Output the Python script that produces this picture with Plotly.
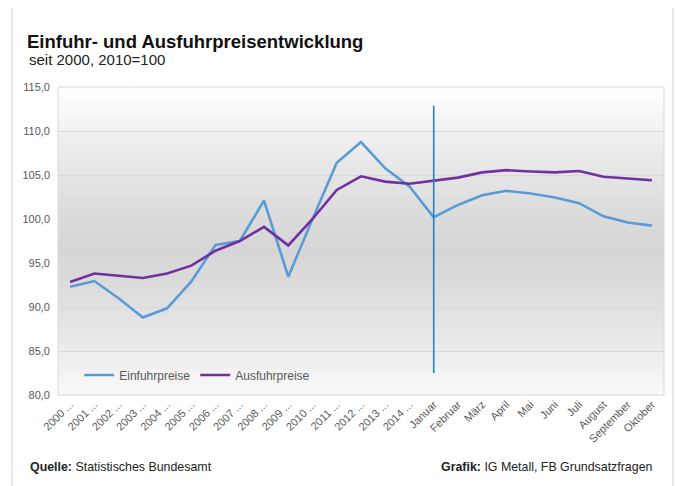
import plotly.graph_objects as go

# Kategorien: Jahre 2000-2014 (abgeschnitten wie im Original) + Monate
jahre = [str(j) + " ..." for j in range(2000, 2015)]
monate = ["Januar", "Februar", "März", "April", "Mai", "Juni", "Juli",
          "August", "September", "Oktober"]
kategorien = jahre + monate

einfuhr = [92.3, 92.95, 91.0, 88.8, 89.85, 92.9, 97.05, 97.5, 102.1, 93.45,
           100.0, 106.4, 108.75, 105.75, 103.7,
           100.2, 101.6, 102.7, 103.2, 102.9, 102.45, 101.8, 100.3, 99.6, 99.25]
ausfuhr = [92.85, 93.8, 93.55, 93.3, 93.8, 94.7, 96.4, 97.5, 99.1, 97.0,
           100.0, 103.3, 104.85, 104.25, 104.0,
           104.35, 104.7, 105.3, 105.55, 105.4, 105.3, 105.45, 104.8, 104.6, 104.4]

# senkrechte Markierung beim Januar
marke_x = ["Januar", "Januar"]
marke_y = [82.5, 112.9]

y_ticks = [80, 85, 90, 95, 100, 105, 110, 115]

FONT = "Liberation Sans, Arial, sans-serif"

# Seite hat 8px Rand -> Figur etwas kleiner, Plotbereich in Seitenkoordinaten 58..664 / 87..395
W, H = 676, 478
PL, PT, PW, PH = 58, 87, 606, 308


def px(xp):
    return (xp - PL) / PW


def py(yp):
    return (PT + PH - yp) / PH


fig = go.Figure()
fig.add_trace(go.Scatter(x=kategorien, y=einfuhr, mode="lines", name="Einfuhrpreise",
                         line=dict(color="#5b9bd5", width=2.6)))
fig.add_trace(go.Scatter(x=kategorien, y=ausfuhr, mode="lines", name="Ausfuhrpreise",
                         line=dict(color="#7030a0", width=2.6)))
fig.add_trace(go.Scatter(x=marke_x, y=marke_y, mode="lines", showlegend=False,
                         hoverinfo="skip", line=dict(color="#2e7fc0", width=1.6)))

# Hintergrundverlauf: weiß oben/unten, grau in der Mitte
shapes = []
n = 60
for i in range(n):
    t = (i + 0.5) / n
    d = abs(t - 0.47) / 0.53
    g = int(round(214 + 41 * min(d, 1) ** 1.3))
    shapes.append(dict(type="rect", xref="paper", yref="paper", x0=0, x1=1,
                       y0=i / n, y1=(i + 1) / n + 0.002, layer="below",
                       line=dict(width=0), fillcolor=f"rgb({g},{g},{g})"))
# Rahmen des Plotbereichs
shapes.append(dict(type="rect", xref="paper", yref="paper", x0=0, x1=1, y0=0, y1=1,
                   line=dict(color="#d9d9d9", width=1), layer="above"))
# äußere Rahmenlinien links/rechts
for xp in [12, 673]:
    shapes.append(dict(type="line", xref="paper", yref="paper", x0=px(xp), x1=px(xp),
                       y0=py(486), y1=py(0), line=dict(color="#d0d0d0", width=1)))

fig.update_layout(
    width=W, height=H,
    margin=dict(l=PL - 8, r=W - (PL - 8) - PW, t=PT - 8, b=H - (PT - 8) - PH),
    paper_bgcolor="white",
    plot_bgcolor="rgba(0,0,0,0)",
    separators=", ",
    font=dict(family=FONT, size=11, color="#595959"),
    title=dict(text="<b>Einfuhr- und Ausfuhrpreisentwicklung</b>",
               x=19 / W, xanchor="left", y=1 - 34 / H, yanchor="middle",
               font=dict(family=FONT, size=18.5, color="#111111")),
    xaxis=dict(type="category", range=[-0.5, len(kategorien) - 0.5], tickangle=-45,
               showgrid=False, showline=False, ticks="",
               tickfont=dict(size=11, color="#595959")),
    yaxis=dict(range=[80, 115], tickvals=y_ticks, tickformat=".1f",
               showgrid=True, gridcolor="#d9d9d9", gridwidth=1, zeroline=False,
               showline=False, ticks="", ticklabelstandoff=7,
               tickfont=dict(size=11, color="#595959")),
    legend=dict(orientation="h", x=0.035, y=0.065, xanchor="left", yanchor="middle",
                bgcolor="rgba(0,0,0,0)", font=dict(size=12, color="#595959"),
                itemwidth=30),
    shapes=shapes,
    annotations=[
        dict(text="seit 2000, 2010=100", xref="paper", yref="paper",
             x=px(27), y=py(59), xanchor="left", yanchor="middle",
             showarrow=False, font=dict(family=FONT, size=15, color="#222222")),
        dict(text="<b>Quelle:</b> Statistisches Bundesamt", xref="paper", yref="paper",
             x=px(28), y=py(467), xanchor="left", yanchor="middle",
             showarrow=False, font=dict(family=FONT, size=12.4, color="#222222")),
        dict(text="<b>Grafik:</b> IG Metall, FB Grundsatzfragen", xref="paper", yref="paper",
             x=px(655), y=py(467), xanchor="right", yanchor="middle",
             showarrow=False, font=dict(family=FONT, size=12.4, color="#222222")),
    ],
)

fig.write_html("out.html")
